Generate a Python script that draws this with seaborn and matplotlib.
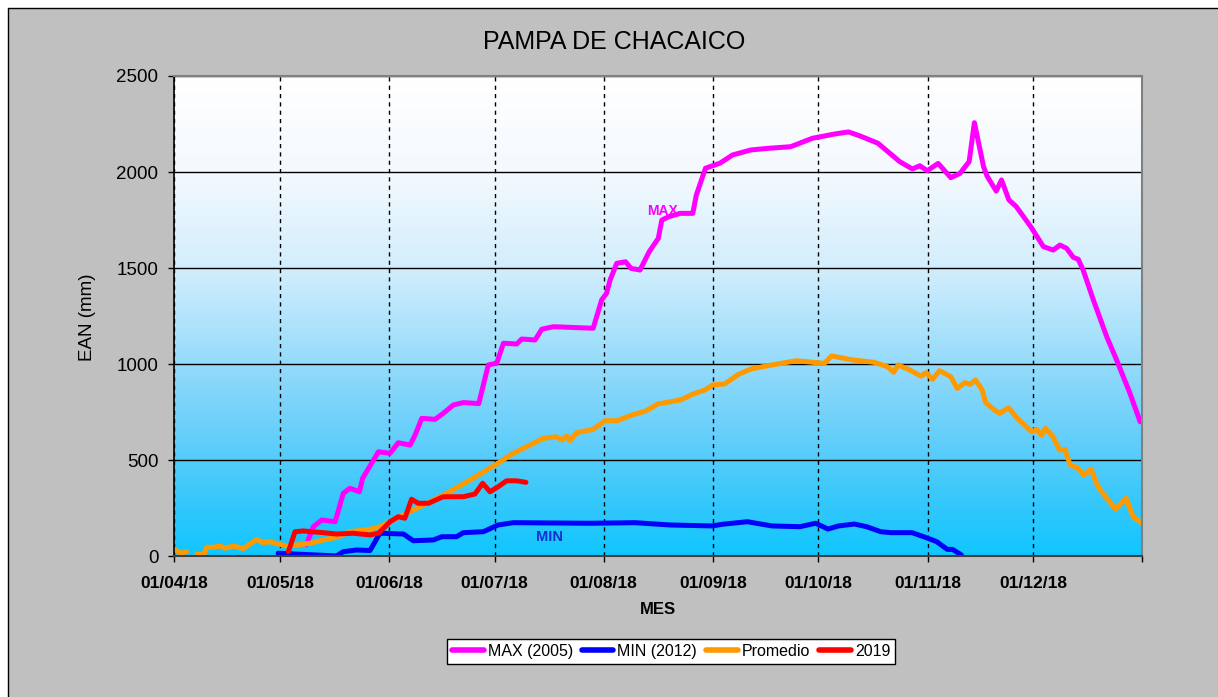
import numpy as np
import pandas as pd
import seaborn as sns
import matplotlib.pyplot as plt
from matplotlib.colors import LinearSegmentedColormap
from matplotlib.lines import Line2D
from matplotlib.patches import Rectangle

INICIO = pd.Timestamp('2018-04-01')

# dias contados desde 01/04/18 y EAN (mm)
max_dias = [37.5, 39.5, 41.9, 45.7, 48.0, 49.9, 52.6, 53.5, 58.0, 61.3,
            63.6, 67.0, 68.4, 70.3, 74.1, 76.4, 79.3, 82.1, 86.5, 89.2,
            91.6, 93.5, 97.3, 98.7, 102.5, 104.4, 107.7, 119.0, 121.4, 122.8,
            123.8, 125.7, 128.2, 129.7, 132.3, 134.9, 137.5, 138.5, 140.5, 143.7,
            147.3, 148.3, 150.9, 155.0, 158.6, 163.8, 169.0, 175.1, 181.3, 187.6,
            191.5, 194.8, 199.9, 206.1, 209.7, 211.8, 213.9, 217.0, 220.6, 223.2,
            225.8, 227.3, 229.9, 230.9, 233.5, 235.0, 237.1, 239.2, 243.3, 246.9,
            249.7, 251.6, 253.5, 255.4, 256.8, 258.2, 261.1, 264.9, 267.7, 271.5,
            274.4]
max_ean = [60, 154, 189, 180, 328, 354, 336, 406, 544, 536,
           591, 579, 631, 718, 713, 744, 788, 800, 795, 996,
           1005, 1109, 1105, 1131, 1126, 1182, 1195, 1187, 1334, 1369,
           1438, 1525, 1533, 1499, 1490, 1585, 1655, 1750, 1768, 1785,
           1785, 1880, 2020, 2046, 2089, 2115, 2124, 2132, 2176, 2198,
           2209, 2188, 2150, 2054, 2016, 2033, 2007, 2045, 1971, 1993,
           2054, 2257, 2028, 1979, 1901, 1959, 1855, 1820, 1716, 1612,
           1594, 1620, 1603, 1556, 1546, 1490, 1334, 1143, 1022, 848,
           700]

min_dias = [29.5, 36.6, 46.1, 48.0, 51.8, 55.6, 58.4, 65.1, 67.9, 73.6,
            76.0, 80.2, 82.1, 87.8, 92.0, 96.3, 118.1, 130.9, 140.9, 152.8,
            155.8, 162.8, 169.8, 177.7, 182.2, 185.7, 188.7, 193.2, 196.7, 200.7,
            203.6, 209.6, 214.1, 216.6, 219.6, 221.1, 223.6]
min_ean = [16, 10, 2, 24, 33, 30, 120, 116, 81, 85,
           102, 102, 123, 128, 163, 175, 172, 175, 163, 158,
           167, 180, 158, 154, 172, 142, 158, 168, 154, 128,
           123, 123, 94, 76, 36, 36, 7]

# el promedio tiene un corte a comienzos de abril
prom_dias_a = [0.2, 1.6, 3.5]
prom_ean_a = [36, 16, 24]
prom_dias_b = [6.4, 8.3, 9.2, 11.1, 13.0, 14.4, 16.8, 19.6, 23.4, 25.3,
               27.2, 29.5, 31.9, 34.8, 38.6, 42.3, 46.1, 49.9, 55.6, 58.4,
               61.3, 67.9, 77.4, 84.0, 91.1, 96.3, 104.8, 108.6, 110.1, 111.5,
               112.4, 114.3, 119.0, 122.4, 125.9, 129.9, 133.9, 137.4, 143.9, 147.4,
               150.8, 153.0, 156.3, 160.3, 163.8, 169.8, 176.7, 184.7, 186.7, 192.7,
               198.7, 202.6, 204.4, 205.6, 208.6, 212.1, 213.6, 215.4, 217.4, 220.6,
               222.4, 224.6, 226.1, 227.6, 229.5, 230.5, 233.0, 234.5, 237.0, 239.5,
               242.0, 243.5, 245.0, 246.3, 247.5, 249.5, 251.5, 253.0, 254.5, 256.5,
               258.4, 260.4, 262.4, 264.9, 267.4, 270.4, 272.4, 274.9]
prom_ean_b = [12, 7, 47, 47, 54, 42, 54, 40, 88, 71,
              76, 64, 54, 59, 68, 85, 99, 128, 141, 154,
              180, 241, 328, 397, 475, 536, 614, 622, 605, 626,
              602, 643, 661, 706, 706, 735, 756, 793, 814, 845,
              866, 892, 897, 947, 975, 996, 1018, 1004, 1043, 1022,
              1010, 987, 958, 996, 973, 938, 956, 921, 966, 935,
              874, 904, 895, 918, 866, 800, 761, 744, 773, 718,
              675, 648, 661, 631, 666, 626, 553, 557, 475, 462,
              423, 453, 362, 302, 245, 302, 206, 172]

y2019_dias = [32.4, 34.3, 36.6, 42.3, 46.1, 50.9, 55.6, 58.0, 61.3, 63.6,
              65.5, 67.4, 69.3, 72.2, 76.4, 82.1, 85.4, 87.6, 89.7, 92.0,
              94.4, 97.3, 99.9]
y2019_ean = [24, 128, 132, 123, 116, 120, 111, 120, 180, 206,
             198, 297, 276, 276, 310, 310, 324, 380, 336, 362,
             393, 393, 385]

series = ['MAX (2005)', 'MIN (2012)', 'Promedio', '2019']
colores = {'MAX (2005)': '#FF00FF', 'MIN (2012)': '#0000FF',
           'Promedio': '#FF9900', '2019': '#FF0000'}
meses = pd.date_range('2018-04-01', '2019-01-01', freq='MS')
etiquetas_mes = [m.strftime('%d/%m/%y') for m in meses[:-1]] + ['']


def tabla(nombre, dias, ean, tramo=0):
    return pd.DataFrame({'fecha': INICIO + pd.to_timedelta(dias, unit='D'),
                         'EAN': ean, 'serie': nombre,
                         'tramo': '%s-%d' % (nombre, tramo)})


df = pd.concat([
    tabla('MAX (2005)', max_dias, max_ean),
    tabla('MIN (2012)', min_dias, min_ean),
    tabla('Promedio', prom_dias_a, prom_ean_a, 0),
    tabla('Promedio', prom_dias_b, prom_ean_b, 1),
    tabla('2019', y2019_dias, y2019_ean),
], ignore_index=True)

sns.set_style('white')
plt.rcParams['font.family'] = ['Liberation Sans', 'DejaVu Sans']
plt.rcParams['text.color'] = 'black'
plt.rcParams['xtick.color'] = 'black'
plt.rcParams['ytick.color'] = 'black'

W, H = 1218, 697
fig = plt.figure(figsize=(W / 100, H / 100), dpi=100, facecolor='white')

# marco gris del grafico de excel
fig.patches.append(Rectangle((8 / W, 0), 1, 1 - 7.5 / H, transform=fig.transFigure,
                             facecolor='#C0C0C0', edgecolor='none', zorder=-10))
fig.lines.append(Line2D([8 / W, 1], [1 - 7.5 / H, 1 - 7.5 / H], transform=fig.transFigure,
                        color='black', lw=1, zorder=-9))
fig.lines.append(Line2D([8 / W, 8 / W], [0, 1 - 7.5 / H], transform=fig.transFigure,
                        color='black', lw=1, zorder=-9))

pos = [174.3 / W, 1 - 556.3 / H, 968 / W, 480.3 / H]

# degradado blanco -> celeste del area de trazado
bg = fig.add_axes(pos, zorder=1)
grad_cmap = LinearSegmentedColormap.from_list('fondo', [
    (0.0, '#FFFFFF'), (0.2, '#F4F9FE'), (0.4, '#D2EEFC'), (0.5, '#B4E5FC'),
    (0.63, '#8CD8FB'), (0.76, '#62CEFA'), (0.88, '#38C8FB'), (1.0, '#10C6FF')])
bg.imshow(np.linspace(0, 1, 256).reshape(-1, 1), cmap=grad_cmap, aspect='auto',
          extent=(0, 1, 0, 1))
bg.axis('off')

ax = fig.add_axes(pos, zorder=2)
ax.patch.set_alpha(0)
ax.set_axisbelow(True)

sns.lineplot(data=df, x='fecha', y='EAN', hue='serie', units='tramo', estimator=None,
             sort=False, hue_order=series, palette=colores, linewidth=3.6,
             legend=False, ax=ax)

ax.set_xlim(meses[0], meses[-1])
ax.set_ylim(0, 2500)
ax.set_yticks(range(0, 2501, 500))
ax.set_xticks(meses)
ax.set_xticklabels(etiquetas_mes, fontweight='bold', fontsize=12.5)
ax.tick_params(axis='y', labelsize=13.5, length=4.5, width=1, pad=7, direction='out', left=True)
ax.tick_params(axis='x', length=4.5, width=1, pad=10, direction='out', bottom=True)
ax.set_xlabel('')
ax.set_ylabel('')

ax.grid(axis='y', color='black', lw=1, linestyle='-')
ax.grid(axis='x', color='black', lw=1, linestyle=(0, (3, 3)))

for lado, col, lw in [('left', 'black', 1.2), ('bottom', '#404040', 1.5),
                      ('top', '#808080', 1.5), ('right', '#808080', 1.5)]:
    ax.spines[lado].set_visible(True)
    ax.spines[lado].set_color(col)
    ax.spines[lado].set_linewidth(lw)

ax.text(INICIO + pd.Timedelta(days=138.7), 1798, 'MAX', color='#FF00FF',
        fontsize=10, fontweight='bold', ha='center', va='center')
ax.text(INICIO + pd.Timedelta(days=106.7), 100, 'MIN', color='#1030D0',
        fontsize=10.5, fontweight='bold', ha='center', va='center')

fig.text(614 / W, 1 - 42 / H, 'PAMPA DE CHACAICO', fontsize=18, ha='center', va='center')
fig.text(87 / W, 1 - 317 / H, 'EAN (mm)', fontsize=13.5, rotation=90,
         ha='center', va='center')
fig.text(658 / W, 1 - 609 / H, 'MES', fontsize=12, fontweight='bold',
         ha='center', va='center')

handles = [Line2D([], [], color=colores[s], lw=4) for s in series]
leg = fig.legend(handles, series, loc='center', bbox_to_anchor=(671 / W, 1 - 651.5 / H),
                 ncol=4, fontsize=11.5, frameon=True, fancybox=False, edgecolor='black',
                 framealpha=1, borderpad=0.3, handlelength=2.0, handletextpad=0.25,
                 columnspacing=0.55, borderaxespad=0)
leg.get_frame().set_linewidth(1)
leg.set_zorder(5)

fig.savefig('out.png', dpi=100, facecolor=fig.get_facecolor())
